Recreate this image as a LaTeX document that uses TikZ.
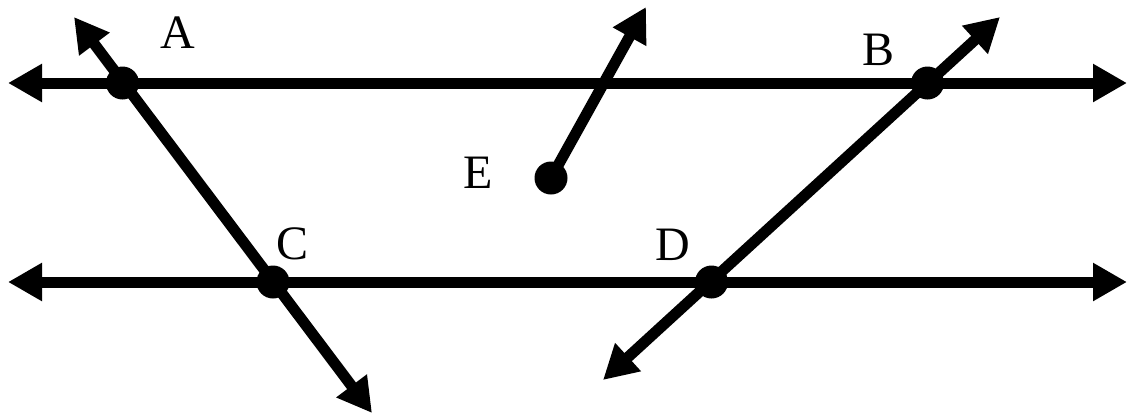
\documentclass[tikz,border=0pt]{standalone}
\usepackage{fontspec}
\setmainfont{Liberation Serif}
\usetikzlibrary{arrows.meta}
\begin{document}
\begin{tikzpicture}[x=1pt,y=-1pt,
  tip/.tip={Triangle[length=34pt,width=36pt]},
  ln/.style={line width=11pt, draw=black, -tip},
  lnboth/.style={line width=11pt, draw=black, tip-tip},
  pt/.style={circle, fill=black, inner sep=0pt, minimum size=33pt},
  lab/.style={font=\fontsize{48}{48}\selectfont, inner sep=0pt}]
\useasboundingbox (0,0) rectangle (1128,416);
% tips
\coordinate (L1) at (8,83);
\coordinate (R1) at (1127,83);
\coordinate (L2) at (8,282);
\coordinate (R2) at (1127,282);
\coordinate (ACt) at (74,17);
\coordinate (ACb) at (372,413);
\coordinate (BDt) at (1000,17);
\coordinate (BDb) at (603,380);
\coordinate (Et) at (646,7);
% points
\coordinate (A) at (122.5,83);
\coordinate (B) at (927.5,83);
\coordinate (C) at (273,282);
\coordinate (D) at (711.5,282);
\coordinate (E) at (551,178);
% lines
\draw[lnboth] (L1) -- (R1);
\draw[lnboth] (L2) -- (R2);
\draw[lnboth] (ACt) -- (ACb);
\draw[lnboth] (BDb) -- (BDt);
\draw[ln] (E) -- (Et);
% dots
\node[pt] (dA) at (A) {};
\node[pt] (dB) at (B) {};
\node[pt] (dC) at (C) {};
\node[pt] (dD) at (D) {};
\node[pt] (dE) at (E) {};
% labels
\node[lab] (tA) at (178,33) {A};
\node[lab] (tB) at (878,50) {B};
\node[lab] (tC) at (293,244) {C};
\node[lab] (tD) at (673,245) {D};
\node[lab] (tE) at (478,173) {E};
\end{tikzpicture}
\end{document}
